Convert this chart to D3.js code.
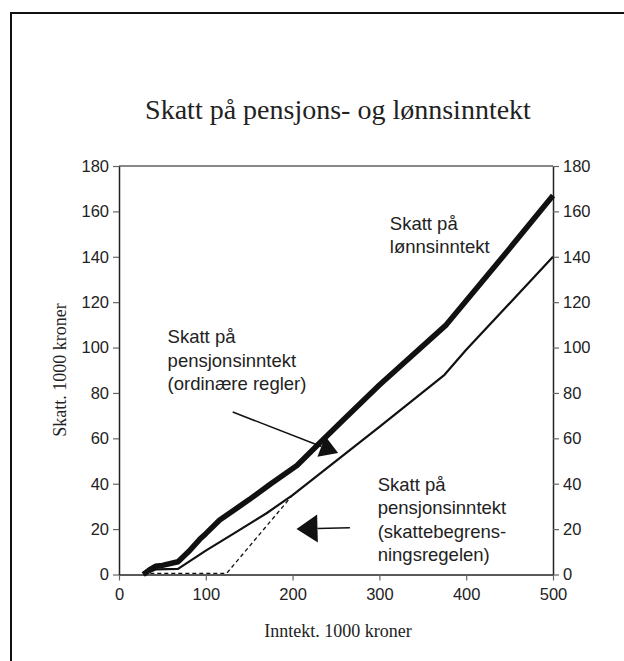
<!DOCTYPE html>
<html>
<head>
<meta charset="utf-8">
<script src="https://cdn.jsdelivr.net/npm/d3@7"></script>
<style>
  body { margin: 0; background: #fff; }
  svg text { fill: #222; }
</style>
</head>
<body>
<div id="chart"></div>
<script>
// data: income (1000 kr) -> tax (1000 kr)
const lonnIncome  = [28, 35, 42, 50, 68, 80, 93, 100, 116, 150, 175, 205, 230, 258, 300, 377, 440, 500];
const lonnTax     = [0, 2, 3.6, 4, 5.6, 10, 15.5, 18, 24, 33, 40, 48, 57.5, 68, 83.5, 110, 139, 167];
const pensjonIncome = [28, 43, 68, 100, 132, 170, 200, 300, 375, 400, 500];
const pensjonTax    = [0, 2.3, 2.5, 10.5, 18, 27, 35, 65, 88, 99, 140];
const begrensIncome = [28, 124, 200];
const begrensTax    = [0.5, 0.5, 35];
const xTicks = [0, 100, 200, 300, 400, 500];
const yTicks = [0, 20, 40, 60, 80, 100, 120, 140, 160, 180];

const margin = {left: 119, right: 71, top: 166, bottom: 86.5};
const width = 624, height = 661;

let svg = d3.select("#chart").append("svg")
	.attr("width", width)
	.attr("height", height);

//frame (runs off the right and bottom edges)
svg.append("rect")
	.attr("x", 11).attr("y", 13)
	.attr("width", 700).attr("height", 700)
	.attr("fill", "none").attr("stroke", "#111").attr("stroke-width", 2);

const xScale = d3.scaleLinear().domain([0, 500]).range([margin.left, width - margin.right]);
const yScale = d3.scaleLinear().domain([0, 180]).range([height - margin.bottom, margin.top]);

//title
svg.append("text")
	.attr("x", 338).attr("y", 119)
	.attr("text-anchor", "middle")
	.style("font-family", "'Liberation Serif', 'Times New Roman', serif")
	.style("font-size", "28px")
	.text("Skatt på pensjons- og lønnsinntekt");

//plot top border
svg.append("line")
	.attr("x1", xScale(0)).attr("x2", xScale(500))
	.attr("y1", yScale(180)).attr("y2", yScale(180))
	.attr("stroke", "#888").attr("stroke-width", 2);

function styleAxis(g){
	g.select(".domain").attr("stroke", "#222").attr("stroke-width", 1.5);
	g.selectAll(".tick line").attr("stroke", "#666").attr("stroke-width", 1.2);
	g.selectAll(".tick text")
		.style("font-family", "'Liberation Sans', Arial, sans-serif")
		.style("font-size", "16.5px")
		.attr("fill", "#222");
}

svg.append("g")
	.attr("transform", `translate(0,${yScale(0)})`)
	.call(d3.axisBottom(xScale).tickValues(xTicks).tickSize(6).tickPadding(8).tickSizeOuter(0))
	.call(styleAxis);

svg.append("g")
	.attr("transform", `translate(${xScale(0)},0)`)
	.call(d3.axisLeft(yScale).tickValues(yTicks).tickSize(6).tickPadding(4).tickSizeOuter(0))
	.call(styleAxis);

svg.append("g")
	.attr("transform", `translate(${xScale(500)},0)`)
	.call(d3.axisRight(yScale).tickValues(yTicks).tickSize(6).tickPadding(4).tickSizeOuter(0))
	.call(styleAxis);

//axis titles
svg.append("text")
	.attr("x", 338).attr("y", 637)
	.attr("text-anchor", "middle")
	.style("font-family", "'Liberation Serif', 'Times New Roman', serif")
	.style("font-size", "18px")
	.text("Inntekt. 1000 kroner");

svg.append("text")
	.attr("transform", `translate(66,370) rotate(-90)`)
	.attr("text-anchor", "middle")
	.style("font-family", "'Liberation Serif', 'Times New Roman', serif")
	.style("font-size", "18px")
	.text("Skatt. 1000 kroner");

//lines
const line = d3.line().x(d => xScale(d[0])).y(d => yScale(d[1]));
const zip = (a, b) => a.map((v, i) => [v, b[i]]);

svg.append("path")
	.datum(zip(begrensIncome, begrensTax))
	.attr("d", line)
	.attr("fill", "none").attr("stroke", "#111").attr("stroke-width", 1.3)
	.attr("stroke-dasharray", "4,3");

svg.append("path")
	.datum(zip(pensjonIncome, pensjonTax))
	.attr("d", line)
	.attr("fill", "none").attr("stroke", "#111").attr("stroke-width", 2.2)
	.attr("stroke-linejoin", "round");

svg.append("path")
	.datum(zip(lonnIncome, lonnTax))
	.attr("d", line)
	.attr("fill", "none").attr("stroke", "#111").attr("stroke-width", 5.5)
	.attr("stroke-linejoin", "round");

//annotations
const labelFont = "'Liberation Sans', Arial, sans-serif";
const labels = [
	{x: 312, y: 152, lines: ["Skatt på", "lønnsinntekt"]},
	{x: 56, y: 102, lines: ["Skatt på", "pensjonsinntekt", "(ordinære regler)"]},
	{x: 298, y: 37, lines: ["Skatt på", "pensjonsinntekt", "(skattebegrens-", "ningsregelen)"]}
];
labels.forEach(l => {
	let t = svg.append("text")
		.style("font-family", labelFont)
		.style("font-size", "18.5px")
		.attr("x", xScale(l.x)).attr("y", yScale(l.y));
	l.lines.forEach((s, i) => {
		t.append("tspan").attr("x", xScale(l.x)).attr("dy", i === 0 ? 0 : 23.5).text(s);
	});
});

const arrows = [
	{from: [131, 71.6], to: [252.5, 53.5], len: 18, half: 11},
	{from: [266, 20.6], to: [204.5, 20], len: 21, half: 14}
];
arrows.forEach(a => {
	const x1 = xScale(a.from[0]), y1 = yScale(a.from[1]);
	const x2 = xScale(a.to[0]), y2 = yScale(a.to[1]);
	const dx = x2 - x1, dy = y2 - y1, d = Math.hypot(dx, dy);
	const ux = dx / d, uy = dy / d;
	const bx = x2 - ux * a.len, by = y2 - uy * a.len;
	svg.append("line")
		.attr("x1", x1).attr("y1", y1).attr("x2", bx).attr("y2", by)
		.attr("stroke", "#111").attr("stroke-width", 1.5);
	svg.append("path")
		.attr("d", `M${x2},${y2}L${bx - uy * a.half},${by + ux * a.half}L${bx + uy * a.half},${by - ux * a.half}Z`)
		.attr("fill", "#111");
});
</script>
</body>
</html>
